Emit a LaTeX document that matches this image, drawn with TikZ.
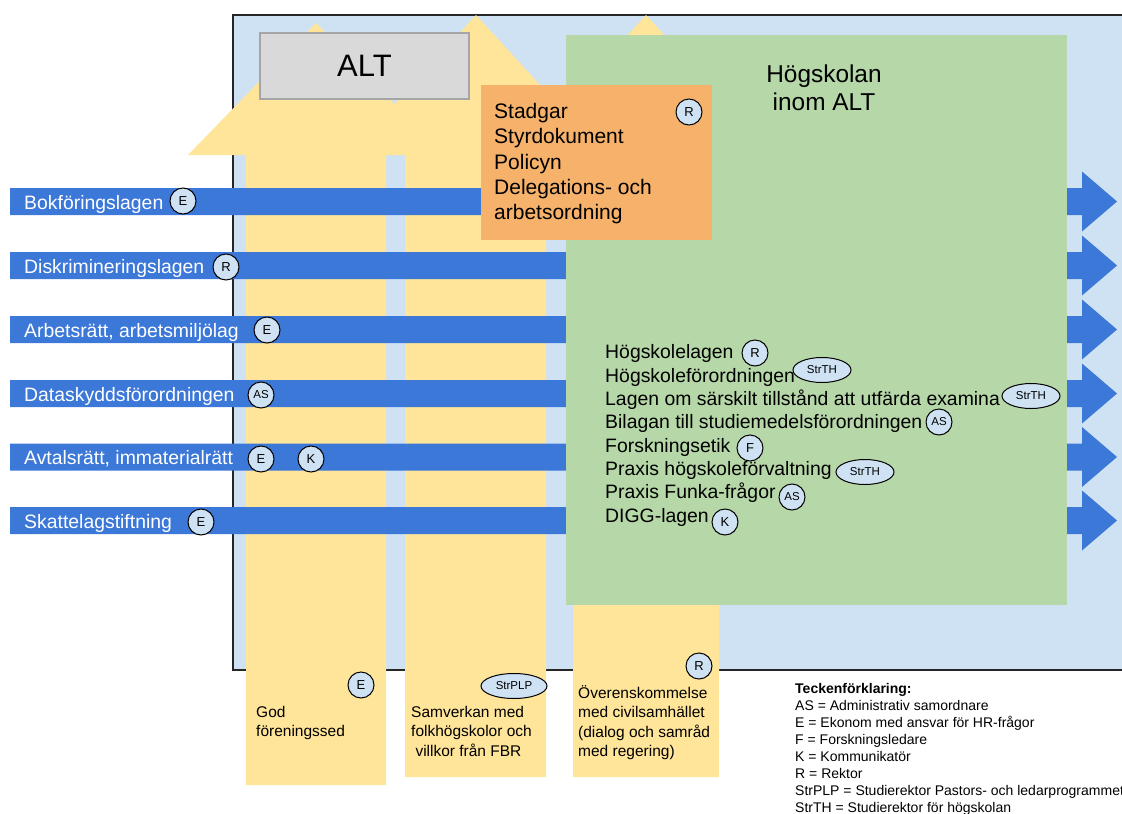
\documentclass[tikz,border=0pt]{standalone}
\usepackage{fontspec}
\setmainfont{Liberation Sans}
\usetikzlibrary{shapes.geometric}
\definecolor{bakgrund}{HTML}{CFE2F3}
\definecolor{pilbla}{HTML}{3C78D8}
\definecolor{sand}{HTML}{FFE599}
\definecolor{gron}{HTML}{B6D7A8}
\definecolor{persika}{HTML}{F6B26B}
\definecolor{altgra}{HTML}{D9D9D9}
\tikzset{
  badge/.style={draw=black, line width=1pt, fill=bakgrund, circle, inner sep=0pt, minimum size=26pt, font=\fontsize{13}{13}\selectfont},
  badgeoval/.style={badge, ellipse, minimum width=58pt, minimum height=25pt, font=\fontsize{11.5}{11.5}\selectfont},
  laglabel/.style={anchor=base west, inner sep=0pt, text=white, font=\fontsize{19.4}{23}\selectfont},
  brodtext/.style={anchor=base west, inner sep=0pt, align=left, font=\fontsize{19.4}{23.3}\selectfont},
  smatext/.style={anchor=base west, inner sep=0pt, align=left, font=\fontsize{15.5}{19.3}\selectfont}
}
\begin{document}
\begin{tikzpicture}[x=1pt,y=-1pt]
  \useasboundingbox (0,0) rectangle (1122,814);
  \filldraw[fill=bakgrund, draw=black!85, line width=1.5pt] (233,15) rectangle (1140,670);
  \fill[sand] (246,785) -- (246,155) -- (188,155) -- (316,23) -- (444,155) -- (386,155) -- (386,785) -- cycle;
  \fill[sand] (405,777) -- (405,155) -- (348,155) -- (476,15) -- (604,155) -- (546,155) -- (546,777) -- cycle;
  \fill[sand] (573,777) -- (573,155) -- (518,155) -- (646,15) -- (774,155) -- (719,155) -- (719,777) -- cycle;
  \foreach \y in {201.5,265.5,329.5,393.5,457,520.5}
    \fill[pilbla] (10,\y-13.5) -- (1082,\y-13.5) -- (1082,\y-30) -- (1117,\y) -- (1082,\y+30) -- (1082,\y+13.5) -- (10,\y+13.5) -- cycle;
  \node[fill=gron, anchor=north west, inner sep=0pt, minimum width=501pt, minimum height=570pt] (hogskolan) at (566,35) {};
  \node[fill=altgra, draw=black!35, line width=1.2pt, inner sep=0pt, minimum width=209pt, minimum height=66pt, font=\fontsize{31}{31}\selectfont] (alt) at (364.5,66) {ALT};
  \node[fill=persika, anchor=north west, inner sep=0pt, minimum width=231pt, minimum height=155pt] (styrning) at (481,85) {};

  \node[align=center, inner sep=0pt, anchor=base, font=\fontsize{24.4}{28.5}\selectfont] (rubrik) at (824,110.5) {Högskolan\\inom ALT};
  \node[brodtext, font=\fontsize{21}{25.25}\selectfont] (styrdok) at (494,219.5) {Stadgar\\Styrdokument\\Policyn\\Delegations- och\\arbetsordning};
  \node[brodtext] (hslista) at (605,522) {Högskolelagen\\Högskoleförordningen\\Lagen om särskilt tillstånd att utfärda examina\\Bilagan till studiemedelsförordningen\\Forskningsetik\\Praxis högskoleförvaltning\\Praxis Funka-frågor\\DIGG-lagen};

  \node[laglabel] (bokf) at (24,209) {Bokföringslagen};
  \node[laglabel] (diskr) at (24,273) {Diskrimineringslagen};
  \node[laglabel] (arbr) at (24,337) {Arbetsrätt, arbetsmiljölag};
  \node[laglabel] (datas) at (24,401) {Dataskyddsförordningen};
  \node[laglabel] (avtal) at (24,464.5) {Avtalsrätt, immaterialrätt};
  \node[laglabel] (skatt) at (24,528) {Skattelagstiftning};

  \node[smatext] (sed) at (256,736.8) {God\\föreningssed};
  \node[smatext] (samverkan) at (411,756.1) {Samverkan med\\folkhögskolor och\\\ villkor från FBR};
  \node[smatext] (overens) at (578,756.4) {Överenskommelse\\med civilsamhället\\(dialog och samråd\\med regering)};

  \node[anchor=base west, inner sep=0pt, align=left, font=\fontsize{14}{17}\selectfont] (legend) at (795,812) {\textbf{Teckenförklaring:}\\AS = Administrativ samordnare\\E = Ekonom med ansvar för HR-frågor\\F = Forskningsledare\\K = Kommunikatör\\R = Rektor\\StrPLP = Studierektor Pastors- och ledarprogrammet\\StrTH = Studierektor för högskolan};

  \node[badge] (rstyr) at (689,112) {R};
  \node[badge] (ebokf) at (183,201) {E};
  \node[badge] (rdiskr) at (226,267) {R};
  \node[badge] (earbr) at (267,330) {E};
  \node[badge, font=\fontsize{11.5}{11.5}\selectfont] (asdatas) at (261,395) {AS};
  \node[badge] (eavtal) at (261,459) {E};
  \node[badge] (kavtal) at (311,459) {K};
  \node[badge] (eskatt) at (201,522) {E};
  \node[badge] (rhsl) at (755,353) {R};
  \node[badgeoval] (strthhsf) at (822,370) {StrTH};
  \node[badgeoval] (strthlagen) at (1031,396) {StrTH};
  \node[badge, font=\fontsize{11.5}{11.5}\selectfont] (asbilagan) at (939,422) {AS};
  \node[badge] (fetik) at (750,448) {F};
  \node[badgeoval] (strthpraxis) at (865,472) {StrTH};
  \node[badge, font=\fontsize{11.5}{11.5}\selectfont] (asfunka) at (792,497) {AS};
  \node[badge] (kdigg) at (725,522) {K};
  \node[badge] (esed) at (361,685) {E};
  \node[badgeoval, minimum width=66pt] (strplp) at (514,686) {StrPLP};
  \node[badge] (rovers) at (699,666) {R};
\end{tikzpicture}
\end{document}
